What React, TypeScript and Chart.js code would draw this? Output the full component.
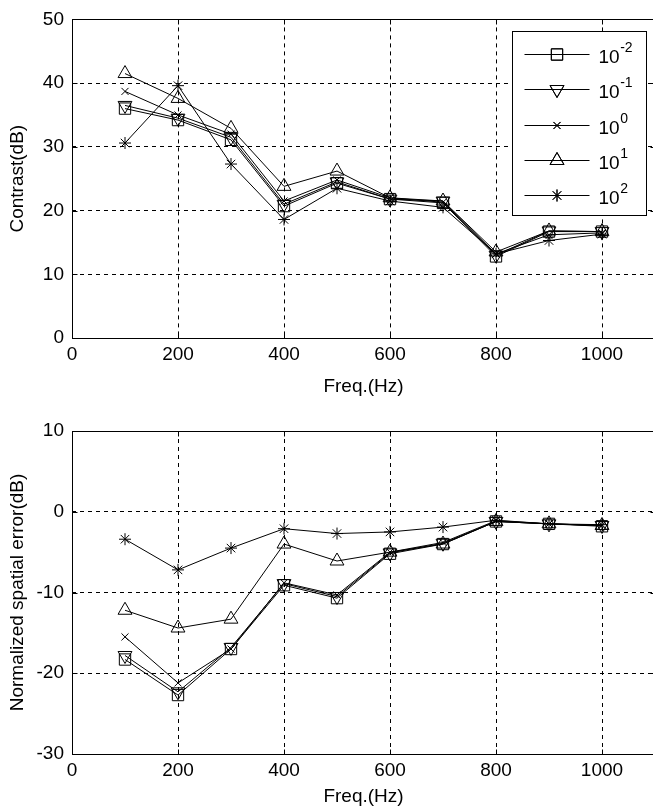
import React, { useEffect, useRef } from 'react';
import { Chart, registerables } from 'chart.js';
import { drawPoint } from 'chart.js/helpers';

Chart.register(...registerables);

// ---------- data ----------
const freqs = [100, 200, 300, 400, 500, 600, 700, 800, 900, 1000];
const exponents = ['-2', '-1', '0', '1', '2'];

const contrastE_2 = [36.0, 34.2, 31.1, 20.7, 24.3, 21.8, 21.2, 12.8, 16.7, 16.7];
const contrastE_1 = [36.5, 34.5, 31.5, 21.0, 24.5, 21.8, 21.5, 13.0, 16.8, 16.7];
const contrastE0 = [38.7, 35.0, 32.0, 21.5, 24.8, 22.0, 21.3, 13.2, 16.2, 16.5];
const contrastE1 = [41.5, 37.6, 32.9, 23.8, 26.2, 22.0, 21.5, 13.5, 16.8, 16.7];
const contrastE2 = [30.6, 39.6, 27.3, 18.6, 23.5, 21.5, 20.5, 13.2, 15.3, 16.3];

const errorE_2 = [-18.3, -22.7, -17.0, -9.1, -10.7, -5.2, -4.0, -1.2, -1.5, -1.8];
const errorE_1 = [-17.8, -22.3, -16.8, -8.9, -10.5, -5.1, -3.9, -1.2, -1.5, -1.7];
const errorE0 = [-15.5, -21.2, -17.0, -8.8, -10.3, -5.0, -3.8, -1.1, -1.5, -1.7];
const errorE1 = [-12.2, -14.4, -13.3, -4.0, -6.1, -5.0, -4.0, -1.2, -1.5, -1.7];
const errorE2 = [-3.4, -7.2, -4.5, -2.1, -2.7, -2.5, -1.9, -1.05, -1.5, -1.6];

const contrastSeries = [contrastE_2, contrastE_1, contrastE0, contrastE1, contrastE2];
const errorSeries = [errorE_2, errorE_1, errorE0, errorE1, errorE2];

const xTickValues = [0, 200, 400, 600, 800, 1000];
const contrastTicks = [0, 10, 20, 30, 40, 50];
const errorTicks = [-30, -20, -10, 0, 10];

// ---------- styles ----------
const FONT = '"Liberation Sans", Arial, Helvetica, sans-serif';
const markerStyles = ['rect', 'triangle', 'crossRot', 'triangle', 'star'];
const markerRotations = [0, 180, 0, 0, 0];
const markerRadii = [8, 8, 5, 8, 6];

function buildDatasets(series: number[][]) {
  return series.map((vals, i) => ({
    label: '10^' + exponents[i],
    data: freqs.map((f, j) => ({ x: f, y: vals[j] })),
    borderColor: '#000',
    borderWidth: 1,
    pointStyle: markerStyles[i],
    rotation: markerRotations[i],
    pointRadius: markerRadii[i],
    pointBorderColor: '#000',
    pointBackgroundColor: 'rgba(0,0,0,0)',
    pointBorderWidth: 1,
    fill: false,
    tension: 0,
  }));
}

const framePlugin = {
  id: 'frameBox',
  afterDraw(chart: any) {
    const { ctx, chartArea: a, scales } = chart;
    ctx.save();
    ctx.setLineDash([]);
    ctx.strokeStyle = '#000';
    ctx.lineWidth = 1;
    const L = Math.round(a.left) + 0.5;
    const T = Math.round(a.top) + 0.5;
    const R = Math.round(a.right) + 0.5;
    const B = Math.round(a.bottom) + 0.5;
    ctx.beginPath();
    ctx.moveTo(L, T); ctx.lineTo(R, T); ctx.lineTo(R, B); ctx.lineTo(L, B); ctx.closePath();
    const tl = 5;
    scales.x.ticks.forEach((t: any) => {
      const px = Math.round(scales.x.getPixelForValue(t.value)) + 0.5;
      ctx.moveTo(px, B); ctx.lineTo(px, B - tl);
      ctx.moveTo(px, T); ctx.lineTo(px, T + tl);
    });
    scales.y.ticks.forEach((t: any) => {
      const py = Math.round(scales.y.getPixelForValue(t.value)) + 0.5;
      ctx.moveTo(L, py); ctx.lineTo(L + tl, py);
      ctx.moveTo(R, py); ctx.lineTo(R - tl, py);
    });
    ctx.stroke();
    ctx.restore();
  },
};

const legendPlugin = {
  id: 'mLegend',
  afterDraw(chart: any, _args: any, opts: any) {
    if (!opts || !opts.show) return;
    const { ctx, chartArea: a } = chart;
    const bx = Math.round(a.right - 143) + 0.5;
    const by = Math.round(a.top + 12) + 0.5;
    const bw = 134;
    const bh = 184;
    ctx.save();
    ctx.setLineDash([]);
    ctx.fillStyle = '#fff';
    ctx.fillRect(bx, by, bw, bh);
    ctx.strokeStyle = '#000';
    ctx.lineWidth = 1;
    ctx.strokeRect(bx, by, bw, bh);
    chart.data.datasets.forEach((ds: any, i: number) => {
      const y = Math.round(by + 22.5 + i * 35.3) + 0.5;
      ctx.beginPath();
      ctx.moveTo(bx + 12, y);
      ctx.lineTo(bx + 77, y);
      ctx.strokeStyle = '#000';
      ctx.lineWidth = 1;
      ctx.stroke();
      ctx.fillStyle = 'rgba(0,0,0,0)';
      drawPoint(ctx, {
        pointStyle: ds.pointStyle,
        rotation: ds.rotation,
        radius: ds.pointRadius,
        borderWidth: 1,
      }, bx + 44.5, y);
      ctx.strokeStyle = '#000';
      ctx.lineWidth = 1;
      ctx.stroke();
      const [base, exp] = String(ds.label).split('^');
      ctx.fillStyle = '#000';
      ctx.textBaseline = 'middle';
      ctx.textAlign = 'left';
      ctx.font = '19px ' + FONT;
      ctx.fillText(base, bx + 86, y + 3);
      const w = ctx.measureText(base).width;
      ctx.font = '14px ' + FONT;
      ctx.fillText(exp, bx + 86 + w + 0.5, y - 6);
    });
    ctx.restore();
  },
};

function makeConfig(series: number[][], yTicks: number[], yTitle: string, xAxisHeight: number, topPad: number, showLegend: boolean) {
  const yMin = yTicks[0];
  const yMax = yTicks[yTicks.length - 1];
  return {
    type: 'line',
    data: { datasets: buildDatasets(series) },
    plugins: [framePlugin, legendPlugin],
    options: {
      responsive: false,
      animation: false,
      devicePixelRatio: 1,
      layout: { padding: { top: topPad, right: 1, left: 0, bottom: 0 } },
      plugins: {
        legend: { display: false },
        tooltip: { enabled: false },
        mLegend: { show: showLegend },
      },
      scales: {
        x: {
          type: 'linear',
          min: 0,
          max: 1100,
          afterBuildTicks: (scale: any) => {
            scale.ticks = xTickValues.map((v) => ({ value: v }));
          },
          afterFit: (scale: any) => { scale.height = xAxisHeight; },
          ticks: {
            color: '#000',
            font: { family: FONT, size: 19 },
            padding: 5,
            maxRotation: 0,
            autoSkip: false,
            callback: (v: any) => String(v),
          },
          grid: { color: '#000', lineWidth: 1, drawTicks: false },
          border: { display: false, dash: [4, 4] },
          title: {
            display: true,
            text: 'Freq.(Hz)',
            color: '#000',
            font: { family: FONT, size: 19 },
            padding: { top: 0, bottom: 2 },
          },
        },
        y: {
          type: 'linear',
          min: yMin,
          max: yMax,
          afterBuildTicks: (scale: any) => {
            scale.ticks = yTicks.map((v) => ({ value: v }));
          },
          afterFit: (scale: any) => { scale.width = 72; },
          ticks: {
            color: '#000',
            font: { family: FONT, size: 19 },
            padding: 8,
            autoSkip: false,
            callback: (v: any) => String(v),
          },
          grid: { color: '#000', lineWidth: 1, drawTicks: false },
          border: { display: false, dash: [4, 4] },
          title: {
            display: true,
            text: yTitle,
            color: '#000',
            font: { family: FONT, size: 19 },
            padding: { top: 6, bottom: 0 },
          },
        },
      },
    },
  } as any;
}

export default function App() {
  const topRef = useRef<HTMLCanvasElement>(null);
  const botRef = useRef<HTMLCanvasElement>(null);

  useEffect(() => {
    Chart.defaults.font.family = FONT;
    const c1 = new Chart(topRef.current as any, makeConfig(contrastSeries, contrastTicks, 'Contrast(dB)', 62, 17, true));
    const c2 = new Chart(botRef.current as any, makeConfig(errorSeries, errorTicks, 'Normalized spatial error(dB)', 56, 31, false));
    return () => {
      c1.destroy();
      c2.destroy();
    };
  }, []);

  return (
    <div
      style={{
        position: 'fixed',
        left: 0,
        top: 0,
        width: 653,
        height: 810,
        overflow: 'hidden',
        background: '#fff',
      }}
    >
      <canvas
        ref={topRef}
        width={664}
        height={400}
        style={{ position: 'absolute', left: 0, top: 0, width: 664, height: 400 }}
      />
      <canvas
        ref={botRef}
        width={664}
        height={410}
        style={{ position: 'absolute', left: 0, top: 400, width: 664, height: 410 }}
      />
    </div>
  );
}
